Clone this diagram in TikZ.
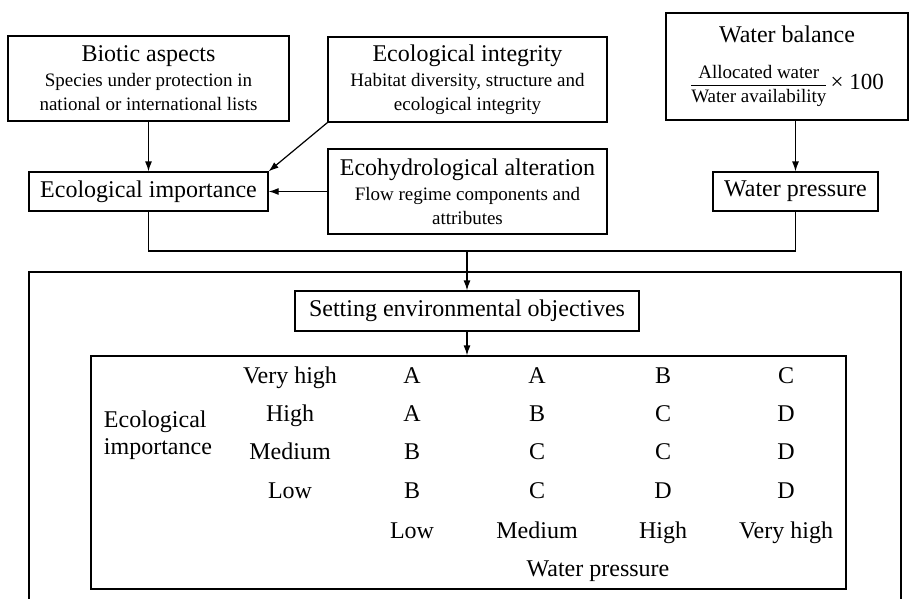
\documentclass[tikz,border=0pt]{standalone}
\usepackage{fontspec}
\setmainfont{Liberation Serif}
\usetikzlibrary{arrows.meta}

\newcommand{\subfont}{\fontsize{19}{23}\selectfont}

\begin{document}
\begin{tikzpicture}
[x=1pt,y=-1pt,line width=1.2pt,%
  every node/.style={font=\fontsize{24}{27}\selectfont},%
  box/.style={draw,line width=1.2pt,align=center,inner sep=0pt},%
  cell/.style={text height=16pt,text depth=5pt},%
  arr/.style={-{Latex[length=10pt,width=7pt]}}]
\useasboundingbox (0,0) rectangle (910,599);

% upper part
\node[box,minimum width=281pt,minimum height=85pt] (biotic) at (148.5,78.5)
  {Biotic aspects\\[-2pt]\subfont Species under protection in\\[-3pt]\subfont national or international lists};
\node[box,minimum width=279pt,minimum height=85pt] (integ) at (467.5,79.5)
  {Ecological integrity\\[-2pt]\subfont Habitat diversity, structure and\\[-3pt]\subfont ecological integrity};
\node[box,minimum width=242pt,minimum height=107pt] (balance) at (787,66.5)
  {Water balance\\[20pt]\fontsize{19}{23}\selectfont
   $\displaystyle{\hbox{Allocated water}\above 1.2pt\hbox{Water availability}}$\,{\fontsize{23}{25}\selectfont× 100}};
\node[box,minimum width=239pt,minimum height=39pt] (ecoimp) at (148.5,191.5) {Ecological importance};
\node[box,minimum width=279pt,minimum height=85pt] (alter) at (467.5,191.5)
  {Ecohydrological alteration\\[-2pt]\subfont Flow regime components and\\[-3pt]\subfont attributes};
\node[box,minimum width=165pt,minimum height=39pt] (press) at (795.5,191.5) {Water pressure};

\draw[arr] (biotic.south) -- (ecoimp.north);
\draw[arr] (integ.south west) -- (ecoimp.north east);
\draw[arr] (alter.west) -- (ecoimp.east);
\draw[arr] (press.north |- balance.south) -- (press.north);

\coordinate (join) at (467,251);
\draw (ecoimp.south) |- (join) -| (press.south);

% lower part
\draw (29,599) |- (901,272) -- (901,599);
\node[box,minimum width=344pt,minimum height=40pt] (setting) at (467,311) {Setting environmental objectives};
\node[box,minimum width=755pt,minimum height=233pt] (tbl) at (468.5,472.5) {};
\draw[arr] (join) -- (setting.north);
\draw[arr] (setting.south) -- (setting.south |- tbl.north);

\node[align=left,anchor=west] (rowtitle) at (100,435) {Ecological\\importance};
\foreach \lab/\y/\a/\b/\c/\d in {Very high/378/A/A/B/C, High/416/A/B/C/D,
    Medium/454/B/C/C/D, Low/493/B/C/D/D}
{
  \node[cell] (r\y) at (290,\y) {\lab};
  \node[cell] (a\y) at (412,\y) {\a};
  \node[cell] (b\y) at (537,\y) {\b};
  \node[cell] (c\y) at (663,\y) {\c};
  \node[cell] (d\y) at (786,\y) {\d};
}
\foreach \lab/\x in {Low/412, Medium/537, High/663, Very high/786}
  \node[cell] (col\x) at (\x,533) {\lab};
\node[cell] (coltitle) at (598,571) {Water pressure};
\end{tikzpicture}
\end{document}
